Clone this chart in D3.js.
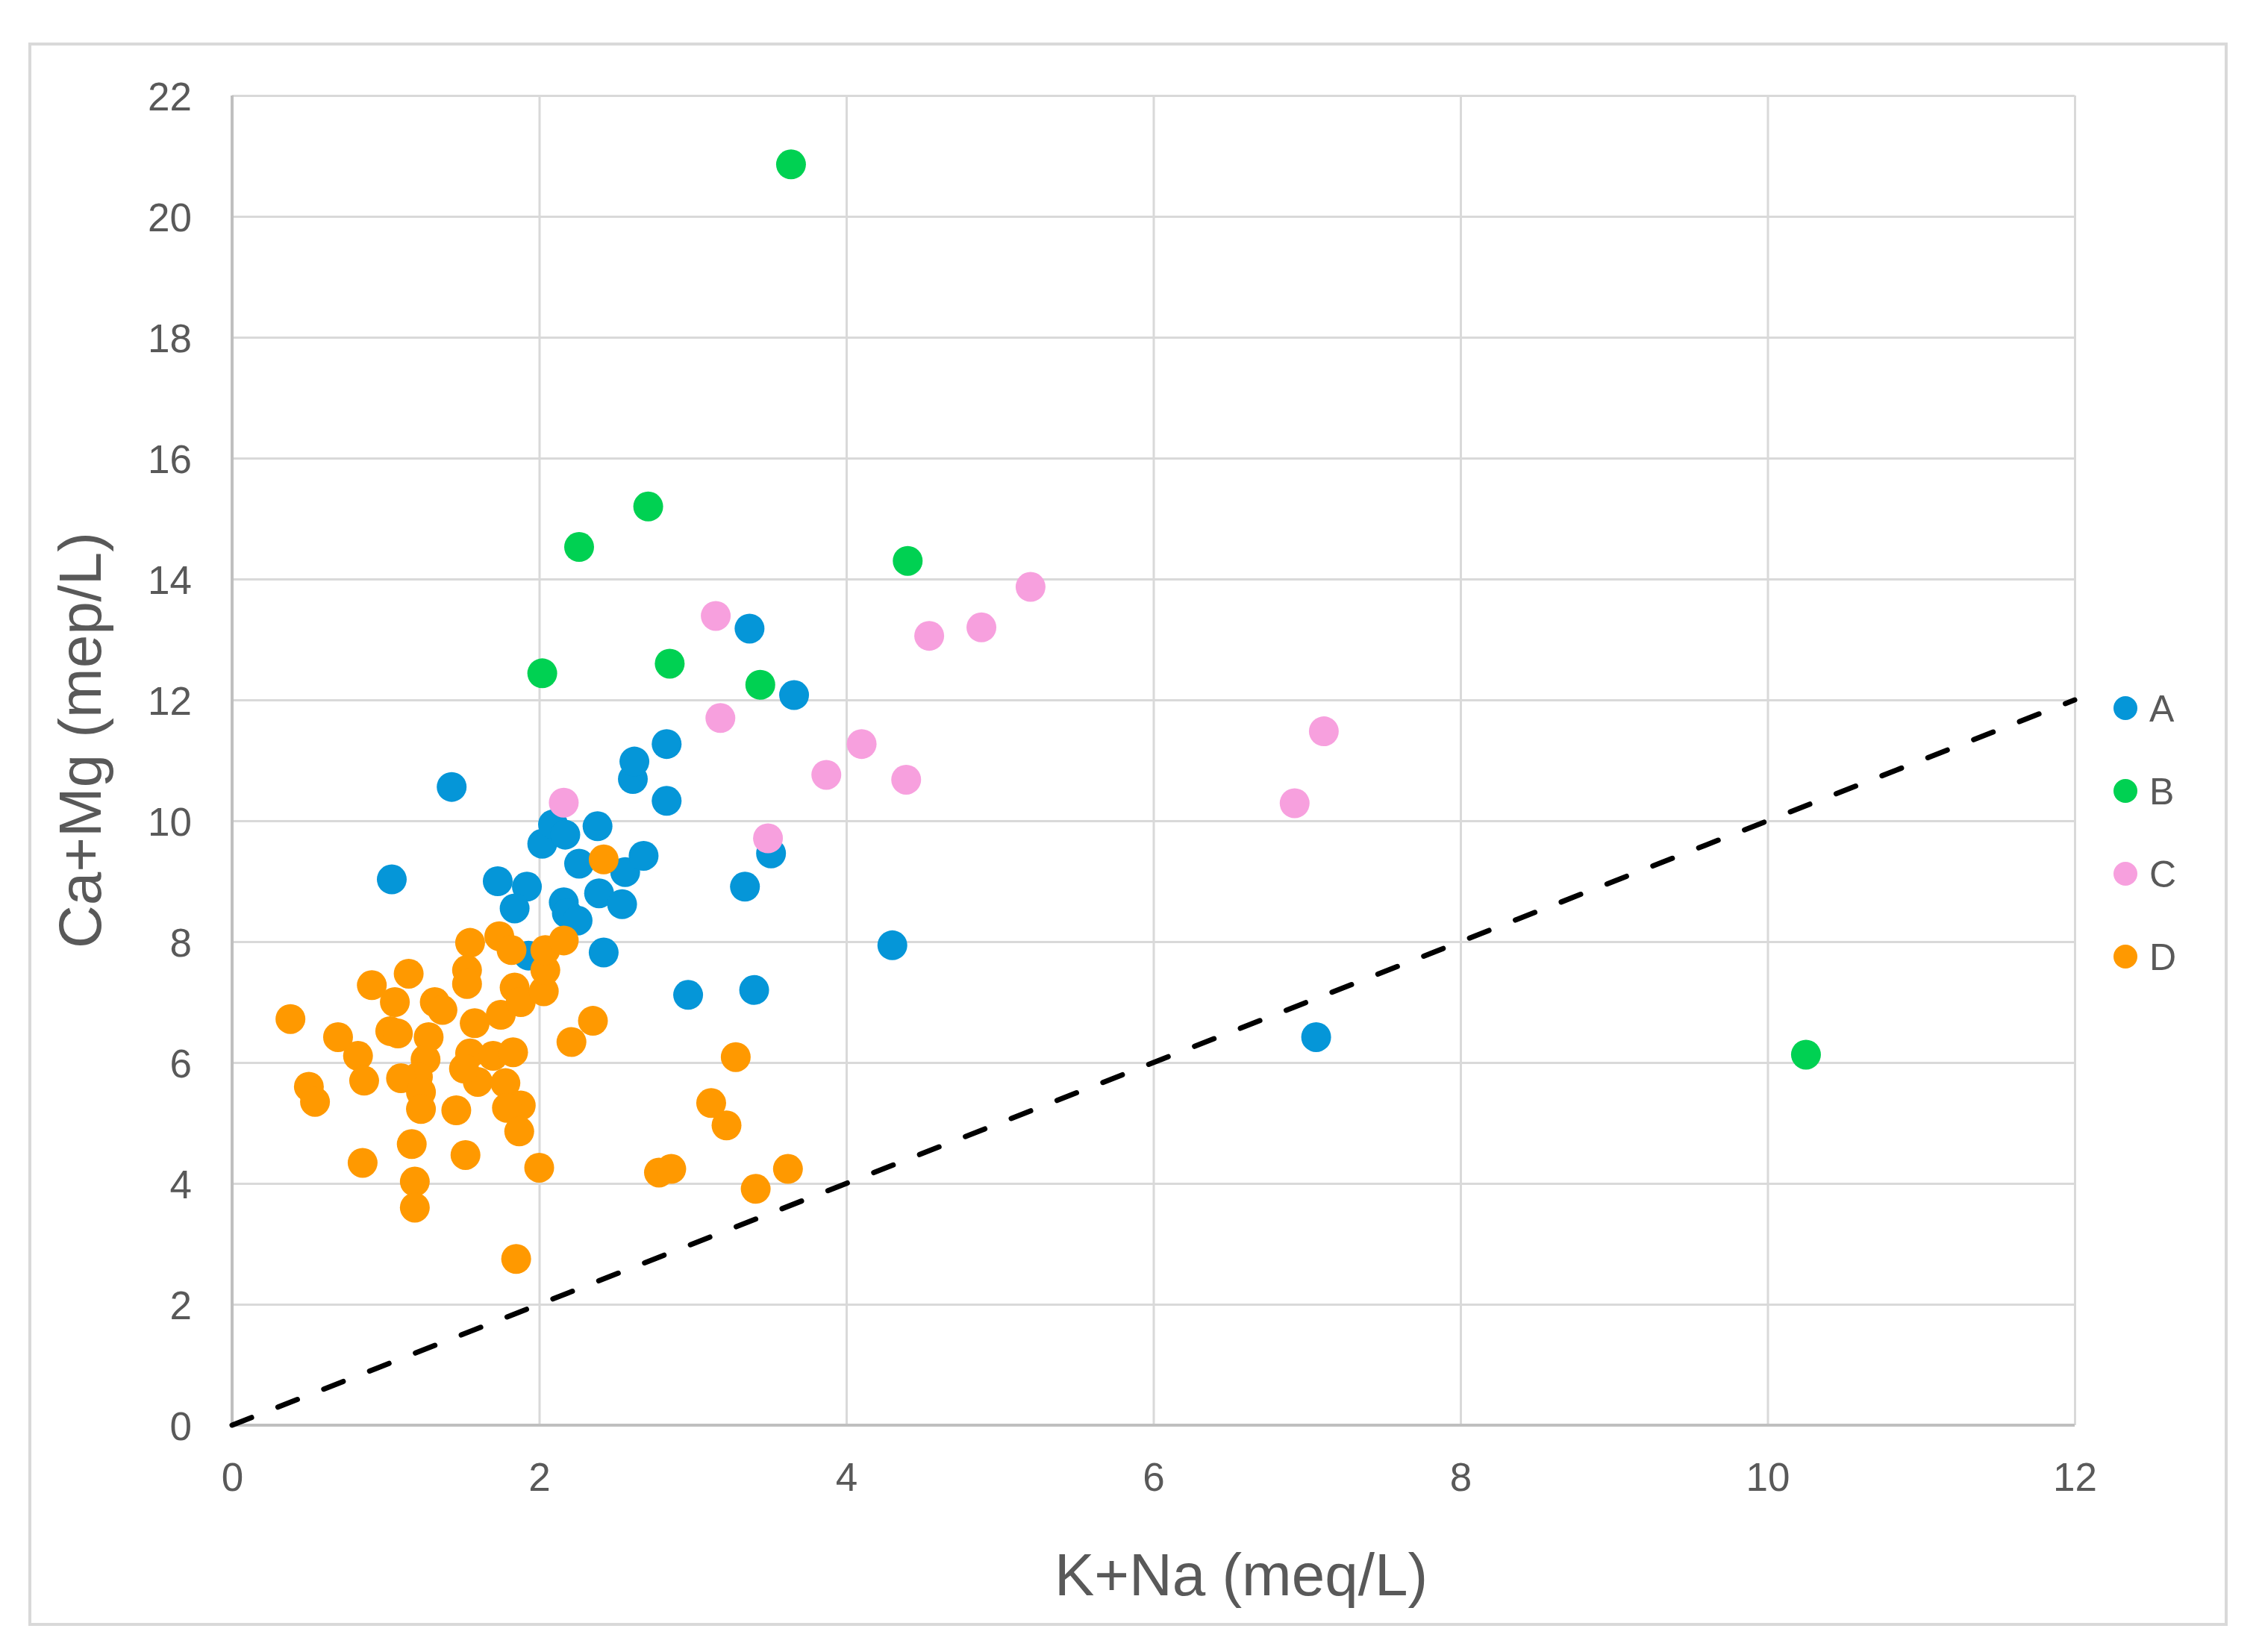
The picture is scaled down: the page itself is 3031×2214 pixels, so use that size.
<!DOCTYPE html>
<html>
<head>
<meta charset="utf-8">
<script src="https://cdn.jsdelivr.net/npm/d3@7"></script>
<style>
  html, body { margin: 0; padding: 0; background: #ffffff; }
  svg { display: block; }
</style>
</head>
<body>
<script>
// ---------- data ----------
const seriesNames = ["A", "B", "C", "D"];
const seriesColors = ["#0596D8", "#00D152", "#F7A0DE", "#FF9900"];

const xTicks = [0, 2, 4, 6, 8, 10, 12];
const yTicks = [0, 2, 4, 6, 8, 10, 12, 14, 16, 18, 20, 22];

const xTitle = "K+Na (meq/L)";
const yTitle = "Ca+Mg (mep/L)";

// reference line y = x
const refLineX = [0, 12];

const seriesA = [
  [1.04, 9.03], [1.43, 10.56], [1.73, 9.00], [1.92, 8.91], [1.84, 8.55],
  [1.93, 7.77], [2.02, 9.62], [2.09, 9.94], [2.17, 9.77], [2.16, 8.65],
  [2.18, 8.47], [2.25, 8.35], [2.26, 9.29], [2.38, 9.91], [2.39, 8.80],
  [2.54, 8.62], [2.56, 9.15], [2.68, 9.42], [2.42, 7.82], [2.61, 10.69],
  [2.62, 10.98], [2.83, 11.27], [2.83, 10.33], [2.97, 7.12], [3.34, 8.91],
  [3.40, 7.20], [3.51, 9.46], [3.37, 13.18], [3.66, 12.08], [4.30, 7.94],
  [7.06, 6.42]
];
const seriesB = [
  [3.64, 20.86], [2.71, 15.20], [2.26, 14.53], [4.40, 14.30],
  [2.02, 12.44], [2.85, 12.60], [3.44, 12.25], [10.25, 6.13]
];
const seriesC = [
  [3.15, 13.39], [3.18, 11.70], [4.54, 13.06], [4.88, 13.20], [5.20, 13.87],
  [4.10, 11.27], [3.87, 10.76], [4.39, 10.68], [2.16, 10.30], [3.49, 9.71],
  [7.11, 11.48], [6.92, 10.29]
];
const seriesD = [
  [0.38, 6.72], [0.69, 6.42], [0.82, 6.11], [0.86, 5.70], [0.50, 5.60],
  [0.54, 5.35], [0.85, 4.34], [0.91, 7.28], [1.15, 7.47], [1.06, 7.00],
  [1.03, 6.52], [1.08, 6.48], [1.32, 7.00], [1.37, 6.87], [1.28, 6.42],
  [1.26, 6.05], [1.21, 5.76], [1.10, 5.74], [1.23, 5.51], [1.23, 5.23],
  [1.17, 4.65], [1.19, 4.03], [1.19, 3.60], [1.46, 5.21], [1.52, 4.47],
  [1.55, 7.98], [1.53, 7.53], [1.53, 7.30], [1.74, 8.09], [1.82, 7.86],
  [1.58, 6.65], [1.75, 6.79], [1.84, 7.24], [1.88, 7.00], [2.03, 7.18],
  [2.04, 7.53], [2.04, 7.86], [2.16, 8.02], [1.55, 6.15], [1.70, 6.11],
  [1.83, 6.17], [1.60, 5.68], [1.51, 5.90], [1.78, 5.66], [1.88, 5.29],
  [1.79, 5.25], [1.87, 4.86], [2.00, 4.26], [2.21, 6.34], [2.35, 6.69],
  [1.85, 2.75], [2.42, 9.36], [3.28, 6.09], [3.12, 5.33], [3.22, 4.96],
  [2.78, 4.18], [2.86, 4.24], [3.62, 4.24], [3.41, 3.91]
];
const allSeries = [seriesA, seriesB, seriesC, seriesD];

// ---------- layout ----------
const W = 3031, H = 2214;
const plot = { left: 311, right: 2780, top: 128, bottom: 1910 };
const textColor = "#595959";
const fontFam = "'Liberation Sans', Arial, sans-serif";

const svg = d3.select("body").append("svg")
  .attr("width", W).attr("height", H)
  .attr("viewBox", `0 0 ${W} ${H}`);

svg.append("rect").attr("x", 0).attr("y", 0).attr("width", W).attr("height", H).attr("fill", "#fff");

// outer chart border
svg.append("rect")
  .attr("x", 40).attr("y", 59).attr("width", 2943).attr("height", 2118)
  .attr("fill", "none").attr("stroke", "#D9D9D9").attr("stroke-width", 4);

const x = d3.scaleLinear().domain([0, 12]).range([plot.left, plot.right]);
const y = d3.scaleLinear().domain([0, 22]).range([plot.bottom, plot.top]);

// gridlines (vertical)
const gx = svg.append("g")
  .attr("transform", `translate(0,${plot.bottom})`)
  .call(d3.axisBottom(x).tickValues(xTicks).tickSize(-(plot.bottom - plot.top)).tickFormat(d3.format("d")).tickPadding(50));
gx.select(".domain").remove();
gx.selectAll(".tick line").attr("stroke", "#D9D9D9").attr("stroke-width", 3);
gx.selectAll(".tick text")
  .attr("fill", textColor).attr("font-family", fontFam).attr("font-size", 53)
  .attr("dy", "0.71em");

// gridlines (horizontal)
const gy = svg.append("g")
  .attr("transform", `translate(${plot.left},0)`)
  .call(d3.axisLeft(y).tickValues(yTicks).tickSize(-(plot.right - plot.left)).tickFormat(d3.format("d")).tickPadding(54));
gy.select(".domain").remove();
gy.selectAll(".tick line").attr("stroke", "#D9D9D9").attr("stroke-width", 3);
gy.selectAll(".tick text")
  .attr("fill", textColor).attr("font-family", fontFam).attr("font-size", 53)
  .attr("dy", "0.36em");

// axis lines (slightly darker)
svg.append("line")
  .attr("x1", x(0)).attr("x2", x(12)).attr("y1", y(0)).attr("y2", y(0))
  .attr("stroke", "#BFBFBF").attr("stroke-width", 4);
svg.append("line")
  .attr("x1", x(0)).attr("x2", x(0)).attr("y1", y(0)).attr("y2", y(22))
  .attr("stroke", "#BFBFBF").attr("stroke-width", 4);

// markers, series order A, B, C, D
allSeries.forEach((data, i) => {
  svg.append("g").selectAll("circle")
    .data(data)
    .join("circle")
    .attr("cx", d => x(d[0]))
    .attr("cy", d => y(d[1]))
    .attr("r", 20)
    .attr("fill", seriesColors[i]);
});

// dashed 1:1 line
svg.append("line")
  .attr("x1", x(refLineX[0])).attr("y1", y(refLineX[0]))
  .attr("x2", x(refLineX[1])).attr("y2", y(refLineX[1]))
  .attr("stroke", "#000").attr("stroke-width", 7)
  .attr("stroke-linecap", "round")
  .attr("stroke-dasharray", "28,38");

// axis titles
svg.append("text")
  .attr("x", 1663).attr("y", 2138)
  .attr("text-anchor", "middle")
  .attr("font-family", fontFam).attr("font-size", 80)
  .attr("fill", textColor)
  .text(xTitle);

svg.append("text")
  .attr("transform", `translate(135,992) rotate(-90)`)
  .attr("text-anchor", "middle")
  .attr("font-family", fontFam).attr("font-size", 80)
  .attr("fill", textColor)
  .text(yTitle);

// legend
const legend = svg.append("g");
seriesNames.forEach((name, i) => {
  const cy = 949 + i * 111;
  legend.append("circle")
    .attr("cx", 2848).attr("cy", cy).attr("r", 16)
    .attr("fill", seriesColors[i]);
  legend.append("text")
    .attr("x", 2880).attr("y", cy)
    .attr("dy", "0.36em")
    .attr("font-family", fontFam).attr("font-size", 50)
    .attr("fill", textColor)
    .text(name);
});
</script>
</body>
</html>
